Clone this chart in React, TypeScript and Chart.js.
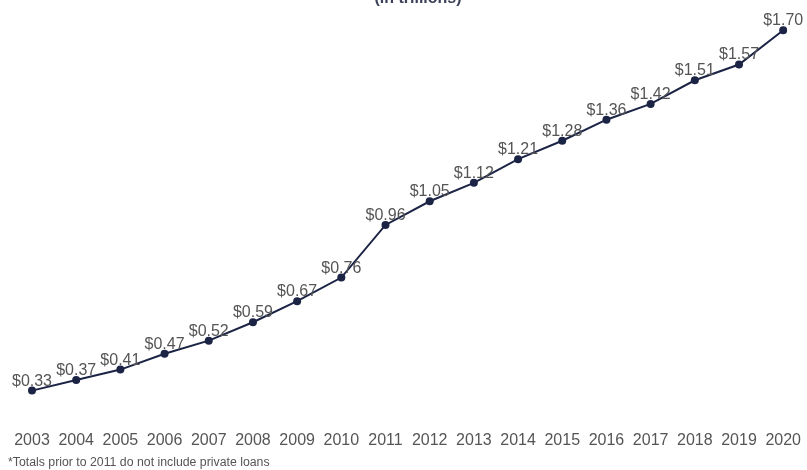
import React, { useEffect, useRef } from "react";
import { Chart, registerables } from "chart.js";

Chart.register(...registerables);

const years = ["2003", "2004", "2005", "2006", "2007", "2008", "2009", "2010", "2011", "2012", "2013", "2014", "2015", "2016", "2017", "2018", "2019", "2020"];
const debt = [0.33, 0.37, 0.41, 0.47, 0.52, 0.59, 0.67, 0.76, 0.96, 1.05, 1.12, 1.21, 1.28, 1.36, 1.42, 1.51, 1.57, 1.7];
const titleText = "(in trillions)";
const footnoteText = "*Totals prior to 2011 do not include private loans";

const FONT = "'Liberation Sans', Arial, sans-serif";
const NAVY = "#1c2446";
const GRAY = "#555555";

const labelsPlugin = {
  id: "valueLabels",
  afterDatasetsDraw(chart: any) {
    const ctx = chart.ctx;
    const meta = chart.getDatasetMeta(0);
    ctx.save();
    ctx.font = `16px ${FONT}`;
    ctx.fillStyle = GRAY;
    ctx.textAlign = "center";
    ctx.textBaseline = "alphabetic";
    meta.data.forEach((pt: any, i: number) => {
      ctx.fillText("$" + debt[i].toFixed(2), pt.x, pt.y - 5);
    });
    ctx.restore();
  },
};

const textPlugin = {
  id: "extraText",
  afterDraw(chart: any) {
    const ctx = chart.ctx;
    ctx.save();
    ctx.font = `bold 16px ${FONT}`;
    ctx.fillStyle = "#3b4258";
    ctx.textAlign = "center";
    ctx.textBaseline = "alphabetic";
    ctx.fillText(titleText, 418, 3);
    ctx.font = `12.3px ${FONT}`;
    ctx.fillStyle = GRAY;
    ctx.textAlign = "left";
    ctx.fillText(footnoteText, 8, 466);
    ctx.restore();
  },
};

export default function App() {
  const ref = useRef<HTMLCanvasElement | null>(null);
  useEffect(() => {
    if (!ref.current) return;
    const chart = new Chart(ref.current, {
      type: "line",
      data: {
        labels: years,
        datasets: [
          {
            data: debt,
            borderColor: NAVY,
            backgroundColor: NAVY,
            borderWidth: 2,
            pointRadius: 4,
            pointBorderWidth: 0,
            pointBackgroundColor: NAVY,
            tension: 0,
            fill: false,
          },
        ],
      },
      options: {
        responsive: false,
        animation: false,
        layout: { padding: { left: 32, right: 20, top: 0.6, bottom: 14 } },
        plugins: {
          legend: { display: false },
          title: { display: false },
          tooltip: { enabled: false },
        },
        scales: {
          x: {
            offset: false,
            grid: { display: false, drawTicks: false },
            border: { display: false },
            ticks: {
              autoSkip: false,
              maxRotation: 0,
              minRotation: 0,
              padding: 6,
              color: GRAY,
              font: { family: FONT, size: 16 },
            },
          },
          y: {
            display: false,
            min: 0.2,
            max: 1.8,
          },
        },
      },
      plugins: [labelsPlugin, textPlugin],
    });
    return () => chart.destroy();
  }, []);
  return (
    <div style={{ position: "fixed", left: 0, top: 0, width: 807, height: 470, background: "#fff" }}>
      <canvas ref={ref} width={807} height={470} style={{ display: "block" }} />
    </div>
  );
}
